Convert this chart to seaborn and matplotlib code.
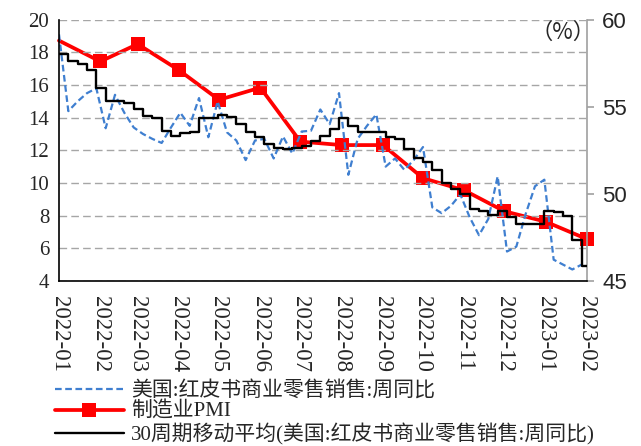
import pandas as pd
import matplotlib
matplotlib.use("Agg")
import matplotlib.pyplot as plt
import matplotlib.dates as mdates
import seaborn as sns

# weekly Redbook retail sales y/y (left axis, %)
weeks = pd.date_range("2022-01-01", periods=57, freq="7D")
redbook_yoy = [19.1, 14.4, 15.0, 15.5, 15.8, 13.35, 15.4, 14.3, 13.4, 13.0,
               12.7, 12.45, 13.4, 14.3, 13.5, 15.2, 12.8, 15.0, 13.1, 12.6,
               11.4, 12.6, 12.7, 11.5, 12.85, 11.8, 13.15, 13.2, 14.5, 13.6,
               15.5, 10.5, 12.7, 13.5, 14.2, 11.0, 11.5, 10.8, 11.4, 12.2,
               8.5, 8.15, 8.6, 9.3, 7.9, 6.8, 7.8, 10.4, 5.8, 6.1,
               8.1, 9.8, 10.2, 5.3, 5.0, 4.7, 5.0]

# 30-week moving average of the same series
ma_dates = list(weeks) + [pd.Timestamp("2023-02-01")]
ma30 = [17.9, 17.5, 17.3, 16.9, 15.8, 15.0, 15.05, 14.9, 14.5, 14.1,
        14.0, 13.2, 12.85, 13.05, 13.15, 13.95, 13.95, 14.15, 14.05, 13.6,
        13.1, 12.8, 12.4, 12.15, 12.1, 12.15, 12.25, 12.6, 12.9, 13.3,
        13.95, 13.5, 13.1, 13.15, 13.1, 12.8, 12.7, 12.1, 11.5, 11.3,
        10.8, 10.0, 9.6, 9.3, 8.4, 8.3, 8.05, 8.3, 7.9, 7.5,
        7.5, 7.5, 8.3, 8.2, 8.0, 6.5, 4.9, 4.9]

# manufacturing PMI (right axis)
pmi_dates = pd.date_range("2022-01-01", "2023-02-01", freq="MS")
pmi = [58.8, 57.6, 58.6, 57.1, 55.4, 56.1, 53.0, 52.8, 52.8, 50.9,
       50.2, 49.0, 48.4, 47.4]

lab_blue = "美国:红皮书商业零售销售:周同比"
lab_red = "制造业PMI"
lab_black = "30周期移动平均(美国:红皮书商业零售销售:周同比)"

sns.set_style("white")
plt.rcParams["font.family"] = ["Liberation Serif", "Noto Sans CJK SC"]

fig = plt.figure(figsize=(6.41, 4.46), dpi=100)
ax = fig.add_axes([59 / 641, 1 - 280.9 / 446, 528 / 641, 261.2 / 446])
ax2 = ax.twinx()
ax.set_zorder(2)
ax2.set_zorder(1)
ax.patch.set_visible(False)

sns.lineplot(x=pmi_dates, y=pmi, ax=ax2, color="#ff0000", lw=2.7,
             marker="s", markersize=10, markeredgewidth=0,
             markevery=list(range(1, len(pmi))), clip_on=False, label=lab_red)
sns.lineplot(x=weeks, y=redbook_yoy, ax=ax, color="#3f7fd0", lw=1.6,
             linestyle=(0, (3, 1.6)), label=lab_blue)
sns.lineplot(x=ma_dates, y=ma30, ax=ax, color="black", lw=1.7,
             drawstyle="steps-post", label=lab_black)

ax.set_ylim(4, 20)
ax.set_yticks(range(4, 21, 2))
ax2.set_ylim(45, 60)
ax2.set_yticks([45, 50, 55, 60])
ax.set_xlim(pd.Timestamp("2022-01-01"), pd.Timestamp("2023-02-01"))
ax.xaxis.set_major_locator(mdates.MonthLocator())
ax.xaxis.set_major_formatter(mdates.DateFormatter("%Y-%m"))

ax.yaxis.grid(True, color="#a6a6a6", lw=1, linestyle=(0, (5.5, 3)))
ax.xaxis.grid(False)
ax2.grid(False)

ax.spines["top"].set_visible(False)
ax2.spines["top"].set_visible(False)
ax.spines["right"].set_visible(False)
ax2.spines["left"].set_visible(False)
ax2.spines["bottom"].set_visible(False)
ax.spines["left"].set_color("black")
ax.spines["bottom"].set_color("black")
ax.spines["left"].set_linewidth(1.2)
ax.spines["bottom"].set_linewidth(1.2)
ax2.spines["right"].set_color("#a0a0a0")
ax2.spines["right"].set_linewidth(1.2)

ax.tick_params(axis="y", length=0, pad=7, labelsize=15)
ax.tick_params(axis="x", direction="in", length=5, width=1.2, pad=11,
               labelsize=16.5, labelrotation=270)
ax2.tick_params(axis="y", direction="out", length=5, width=1.2,
                color="#a0a0a0", pad=6, labelsize=16)
fig.canvas.draw()
for t in ax.get_xticklabels():
    t.set_ha("center")
    t.set_va("top")
    t.set_fontfamily("Liberation Serif")
for t in ax.get_yticklabels():
    t.set_fontfamily("Liberation Serif")
for t in ax2.get_yticklabels():
    t.set_fontfamily("Liberation Sans")
ax.set_xlabel("")
ax.set_ylabel("")
ax2.set_ylabel("")

ax.text(0.955, 0.952, "（%）", transform=ax.transAxes, ha="center",
        va="center", fontsize=16, family=["Noto Sans CJK SC", "DejaVu Sans"])

h1, l1 = ax.get_legend_handles_labels()
h2, l2 = ax2.get_legend_handles_labels()
ax.get_legend().remove()
ax2.get_legend().remove()
handles = [h1[0], h2[0], h1[1]]
labels = [l1[0], l2[0], l1[1]]
fig.legend(handles, labels, loc="upper left",
           bbox_to_anchor=(55 / 641, 1 - 381 / 446), frameon=False,
           fontsize=15, handlelength=3.3, handletextpad=0.35,
           labelspacing=0.05, borderpad=0, borderaxespad=0, numpoints=1)

fig.savefig("out.png", dpi=100)
